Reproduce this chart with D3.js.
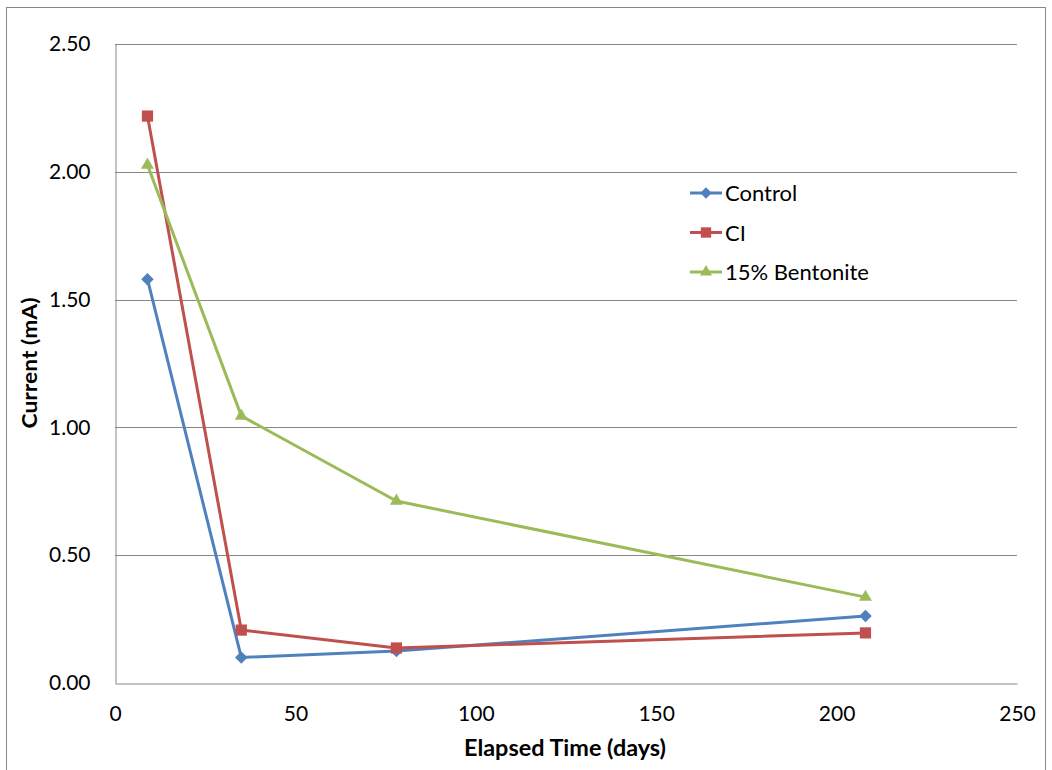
<!DOCTYPE html>
<html><head><meta charset="utf-8">
<script src="https://cdn.jsdelivr.net/npm/d3@7"></script>
<style>body{margin:0;background:#fff}svg{display:block}text{font-family:Lato,"Open Sans",sans-serif;fill:#000}</style>
</head><body><svg id="c" width="1052" height="770"></svg>
<script>
const days = [9, 35, 78, 208];
const control = [1.58, 0.10, 0.125, 0.262];
const ci = [2.218, 0.207, 0.137, 0.196];
const bentonite = [2.027, 1.045, 0.712, 0.336];
const seriesNames = ["Control", "CI", "15% Bentonite"];
const xTicks = [0, 50, 100, 150, 200, 250];
const yTicks = [0, 0.5, 1.0, 1.5, 2.0, 2.5];

const series = [
  {name: seriesNames[0], values: control, color: "#4F81BD", sym: d3.symbolDiamond2, size: 100},
  {name: seriesNames[1], values: ci, color: "#C0504D", sym: d3.symbolSquare2, size: 160},
  {name: seriesNames[2], values: bentonite, color: "#9BBB59", sym: d3.symbolTriangle2, size: 120}
];

const svg = d3.select("#c");
svg.append("rect").attr("x",6.5).attr("y",7.5).attr("width",1039).attr("height",770).attr("fill","none").attr("stroke","#888").attr("stroke-width",1);

const L=115, R=1017, T=44, B=683;
const x = d3.scaleLinear().domain([0,250]).range([L,R]);
const y = d3.scaleLinear().domain([0,2.5]).range([B,T]);

// gridlines
svg.append("g").selectAll("line").data(yTicks.filter(d=>d>0)).join("line")
  .attr("x1",L).attr("x2",R).attr("y1",d=>Math.round(y(d))+0.5).attr("y2",d=>Math.round(y(d))+0.5)
  .attr("stroke","#888").attr("stroke-width",1);

// axes
const yAxis = svg.append("g").attr("transform",`translate(${L+0.5},0)`)
  .call(d3.axisLeft(y).tickValues(yTicks).tickFormat(d3.format(".2f")).tickSize(0).tickPadding(25));
yAxis.select(".domain").attr("stroke","#888");
yAxis.selectAll("text").attr("font-size",21).attr("font-family","Lato,sans-serif").attr("fill","#000");

const xAxis = svg.append("g").attr("transform",`translate(0,${B+0.5})`)
  .call(d3.axisBottom(x).tickValues(xTicks).tickFormat(d3.format("d")).tickSize(0).tickPadding(23));
xAxis.select(".domain").attr("stroke","#888");
xAxis.selectAll("text").attr("font-size",21).attr("font-family","Lato,sans-serif").attr("fill","#000");

// titles
svg.append("text").attr("transform","translate(37,363) rotate(-90)").attr("text-anchor","middle")
  .attr("font-size",20).attr("font-weight","bold").attr("textLength",131).attr("lengthAdjust","spacingAndGlyphs").text("Current (mA)");
svg.append("text").attr("x",565).attr("y",756).attr("text-anchor","middle")
  .attr("font-size",22).attr("font-weight","bold").attr("textLength",202).attr("lengthAdjust","spacingAndGlyphs").text("Elapsed Time (days)");

// lines
const line = d3.line().x((d,i)=>x(days[i])).y(d=>y(d));
series.forEach(s=>{
  const g = svg.append("g");
  g.append("path").attr("d",line(s.values)).attr("fill","none").attr("stroke",s.color).attr("stroke-width",3).attr("stroke-linejoin","round");
  g.selectAll("path.m").data(s.values).join("path").attr("class","m")
    .attr("transform",(d,i)=>`translate(${x(days[i])},${y(d)})`)
    .attr("d",d3.symbol().type(s.sym).size(s.size)).attr("fill",s.color);
});

// legend
const lg = svg.append("g");
series.forEach((s,i)=>{
  const yy = 193 + i*39.5;
  lg.append("line").attr("x1",690).attr("x2",722).attr("y1",yy).attr("y2",yy).attr("stroke",s.color).attr("stroke-width",3);
  lg.append("path").attr("transform",`translate(706,${yy})`).attr("d",d3.symbol().type(s.sym).size(s.size*0.85)).attr("fill",s.color);
  lg.append("text").attr("x",725).attr("y",yy+8).attr("font-size",22).text(s.name);
});
</script></body></html>
